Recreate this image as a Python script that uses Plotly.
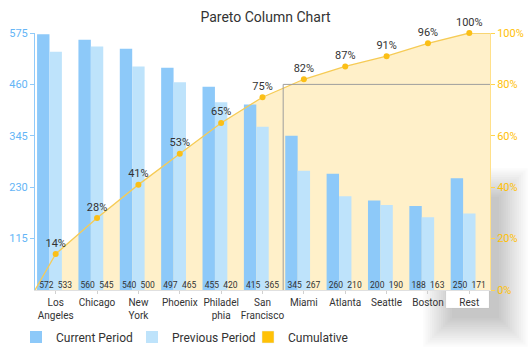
import plotly.graph_objects as go

categories = ["Los<br>Angeles", "Chicago", "New<br>York", "Phoenix", "Philadel<br>phia",
              "San<br>Francisco", "Miami", "Atlanta", "Seattle", "Boston", "Rest"]
current_period = [572, 560, 540, 497, 455, 415, 345, 260, 200, 188, 250]
previous_period = [533, 545, 500, 465, 420, 365, 267, 210, 190, 163, 171]
cumulative_pct = [14, 28, 41, 53, 65, 75, 82, 87, 91, 96, 100]
left_ticks = [115, 230, 345, 460, 575]
right_ticks = [0, 20, 40, 60, 80, 100]
threshold = 80

n = len(categories)
xs = list(range(n))
x_lo, x_hi = -0.5, n - 0.5
line_x = [x_lo] + xs + [x_hi]
line_y = [0] + cumulative_pct + [cumulative_pct[-1]]
BARGAP = 0.1
half = (1 - BARGAP) / 4   # centre offset of each bar in a 2-bar group

FONT = "Roboto"
fig = go.Figure()

# cumulative area (bottom layer)
fig.add_trace(go.Scatter(x=line_x, y=line_y, mode="lines", line=dict(width=0),
                         fill="tozeroy", fillcolor="#FFF0C9", yaxis="y",
                         showlegend=False, hoverinfo="skip"))

series = [(current_period, "Current Period", "#8DC9F9", -half),
          (previous_period, "Previous Period", "#BEE3FB", half)]
for vals, name, col, off in series:
    fig.add_trace(go.Bar(x=xs, y=vals, name=name, yaxis="y2",
                         marker=dict(color=col, line=dict(width=0))))
fig.add_trace(go.Bar(x=[None], y=[None], name="Cumulative", yaxis="y2",
                     marker=dict(color="#FFC107")))
# value labels at the foot of each bar
for vals, name, col, off in series:
    fig.add_trace(go.Scatter(x=[x + off for x in xs], y=[0] * n, yaxis="y2",
                             mode="text", text=[str(v) for v in vals],
                             textposition="top center", cliponaxis=False,
                             textfont=dict(size=8.5, color="#333333", family=FONT),
                             showlegend=False, hoverinfo="skip"))

# cumulative line and points (top layer)
fig.add_trace(go.Scatter(x=line_x, y=line_y, mode="lines", yaxis="y3",
                         line=dict(color="#F6CB55", width=1.3), cliponaxis=False,
                         showlegend=False, hoverinfo="skip"))
fig.add_trace(go.Scatter(x=xs, y=cumulative_pct, mode="markers+text", yaxis="y3",
                         marker=dict(color="#FBBF16", size=6), cliponaxis=False,
                         text=[f"{v}%" for v in cumulative_pct], textposition="top center",
                         textfont=dict(size=11, color="#333333", family=FONT),
                         showlegend=False))

# geometry helpers (pixels -> paper)
L, R, T, B = 35, 490, 33, 290
W, H = R - L, B - T
def px(p):
    return (p - L) / W
def py(p):
    return (B - p) / H

shapes = []
# soft shadow around the highlighted last column
bx0, bx1, by0, by1 = 446, 489, 165, 308
for i in range(1, 15):
    s = 2.2 * i
    shapes.append(dict(type="rect", xref="paper", yref="paper", layer="below",
                       x0=px(bx0 + 8 - s), x1=px(bx1 + 8 + s),
                       y0=py(by1 + 8 + s), y1=py(by0 + 34 - s),
                       fillcolor="rgba(0,0,0,0.016)", line=dict(width=0)))
shapes.append(dict(type="rect", xref="paper", yref="paper", layer="below",
                   x0=px(bx0), x1=px(bx1), y0=py(by1), y1=py(by0),
                   fillcolor="white", line=dict(width=0.6, color="rgba(0,0,0,0.05)")))

# 80% cutoff lines
cut = next(i for i, v in enumerate(cumulative_pct) if v >= threshold) - 0.5
shapes.append(dict(type="line", xref="x", yref="y", layer="above",
                   x0=cut, x1=x_hi, y0=threshold, y1=threshold,
                   line=dict(color="#9E9E9E", width=1)))
shapes.append(dict(type="line", xref="x", yref="y", layer="above",
                   x0=cut, x1=cut, y0=0, y1=threshold,
                   line=dict(color="#9E9E9E", width=1)))

fig.update_layout(
    width=531, height=354,
    margin=dict(l=L, r=531 - R, t=T, b=354 - B, autoexpand=False),
    paper_bgcolor="white", plot_bgcolor="rgba(0,0,0,0)",
    font=dict(family=FONT, color="#333333"),
    title=dict(text="Pareto Column Chart", x=0.5, xref="container", xanchor="center",
               y=1 - 17 / 354, yref="container", yanchor="middle",
               font=dict(size=14, color="#333333", family=FONT)),
    barmode="group", bargap=BARGAP, bargroupgap=0,
    showlegend=True,
    legend=dict(orientation="h", x=px(16), xanchor="left", y=py(337), yanchor="middle",
                entrywidth=71, entrywidthmode="pixels",
                font=dict(size=12, color="#333333", family=FONT), traceorder="normal"),
    xaxis=dict(range=[x_lo, x_hi], tickvals=xs, ticktext=categories, tickangle=0,
               automargin=False,
               showgrid=False, zeroline=False, showline=True, linecolor="#E0E0E0",
               ticks="outside", ticklen=3, tickcolor="#D0D0D0",
               tickfont=dict(size=10, color="#333333", family=FONT)),
    yaxis=dict(side="right", range=[0, 100], tickvals=right_ticks, automargin=False,
               ticktext=[f"{v}%" for v in right_ticks],
               showgrid=False, zeroline=False, showline=True, linecolor="#FFE08A",
               ticks="outside", ticklen=4, tickcolor="#FFD54F",
               tickfont=dict(size=11, color="#FFC107", family=FONT)),
    yaxis2=dict(overlaying="y", side="left", range=[0, 575], tickvals=left_ticks,
                automargin=False,
                showgrid=False, zeroline=False, showline=True, linecolor="#90CAF9",
                ticks="outside", ticklen=4, tickcolor="#90CAF9",
                tickfont=dict(size=11, color="#64B5F6", family=FONT)),
    yaxis3=dict(overlaying="y", range=[0, 100], visible=False),
    shapes=shapes,
)

fig.write_html("out.html")
